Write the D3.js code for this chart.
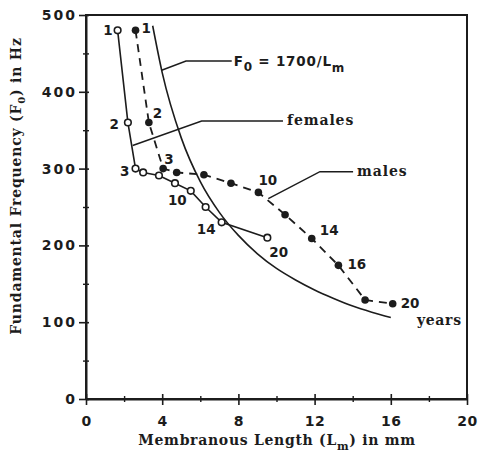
<!DOCTYPE html>
<html><head><meta charset="utf-8">
<script src="https://cdn.jsdelivr.net/npm/d3@7"></script>
<style>body{margin:0;background:#fff}</style>
</head><body>
<svg id="c" width="478" height="457"></svg>
<script>
// ---- data ----
const xTicks = [0, 4, 8, 12, 16, 20];
const xMinor = [2, 6, 10, 14, 18];
const yTicks = [0, 100, 200, 300, 400, 500];
const yMinor = [50, 150, 250, 350, 450];

const femaleAge = [1, 2, 3, 4, 6, 8, 10, 12, 14, 20];
const femaleL   = [1.66, 2.2, 2.6, 3.0, 3.83, 4.67, 5.5, 6.28, 7.12, 9.52];
const femaleF   = [480, 360, 300, 295, 291, 281, 271, 250, 230, 210];

const maleAge = [1, 2, 3, 4, 6, 8, 10, 12, 14, 16, 18, 20];
const maleL   = [2.6, 3.3, 4.05, 4.76, 6.19, 7.61, 9.05, 10.45, 11.85, 13.25, 14.65, 16.1];
const maleF   = [480, 360, 300, 295, 292, 281, 269, 240, 209, 174, 129, 124];

const femaleLabeled = [1, 2, 3, 10, 14, 20];
const maleLabeled   = [1, 2, 3, 10, 14, 16, 20];

// reference curve F0 = 1700/Lm
const curveL = [3.5, 4, 5, 6, 7, 8, 9, 10, 11, 12, 13, 14, 15, 16];
const curveF = [486, 425, 340, 283, 243, 213, 189, 170, 155, 142, 131, 121, 113, 106];

// ---- layout ----
const svg = d3.select("#c");
const W = 478, H = 457;
const m = {l: 86, r: 11, t: 15, b: 58};
const x = d3.scaleLinear().domain([0, 20]).range([m.l, W - m.r]);
const y = d3.scaleLinear().domain([0, 500]).range([H - m.b, m.t]);
const ink = "#1c1c1c";
const numFont = "'DejaVu Sans', sans-serif";
const serif = "'DejaVu Serif', serif";

svg.append("rect").attr("width", W).attr("height", H).attr("fill", "#fff");

// frame
svg.append("rect")
  .attr("x", x(0)).attr("y", y(500))
  .attr("width", x(20) - x(0)).attr("height", y(0) - y(500))
  .attr("fill", "none").attr("stroke", ink).attr("stroke-width", 2);

// axes
const gx = svg.append("g").attr("transform", `translate(0,${y(0)})`)
  .call(d3.axisBottom(x).tickValues(xTicks).tickSize(6).tickSizeOuter(0));
gx.select(".domain").attr("stroke", ink).attr("stroke-width", 2);
gx.selectAll(".tick line").attr("y1", -5).attr("stroke", ink).attr("stroke-width", 1.6);
gx.selectAll(".tick text").attr("y", 27).attr("dy", 0)
  .attr("font-family", numFont).attr("font-weight", "bold").attr("font-size", 14)
  .attr("letter-spacing", 0.5).attr("fill", ink);

const gxm = svg.append("g").attr("transform", `translate(0,${y(0)})`)
  .call(d3.axisBottom(x).tickValues(xMinor).tickSize(3).tickSizeOuter(0).tickFormat(""));
gxm.select(".domain").remove();
gxm.selectAll(".tick line").attr("y1", -3).attr("stroke", ink).attr("stroke-width", 1.4);

const gy = svg.append("g").attr("transform", `translate(${x(0)},0)`)
  .call(d3.axisLeft(y).tickValues(yTicks).tickSize(7).tickSizeOuter(0));
gy.select(".domain").attr("stroke", ink).attr("stroke-width", 2);
gy.selectAll(".tick line").attr("x1", 3).attr("stroke", ink).attr("stroke-width", 1.6);
gy.selectAll(".tick text").attr("x", -9)
  .attr("font-family", numFont).attr("font-weight", "bold").attr("font-size", 14)
  .attr("letter-spacing", 2).attr("fill", ink);

const gym = svg.append("g").attr("transform", `translate(${x(0)},0)`)
  .call(d3.axisLeft(y).tickValues(yMinor).tickSize(3).tickSizeOuter(0).tickFormat(""));
gym.select(".domain").remove();
gym.selectAll(".tick line").attr("x1", 3).attr("stroke", ink).attr("stroke-width", 1.4);

// axis titles
const xt = svg.append("text").attr("x", 277).attr("y", 445)
  .attr("text-anchor", "middle").attr("font-family", serif).attr("font-weight", "bold")
  .attr("font-size", 14).attr("letter-spacing", 0.7).attr("fill", ink);
xt.append("tspan").text("Membranous Length (L");
xt.append("tspan").attr("dy", 5).attr("font-size", 11).text("m");
xt.append("tspan").attr("dy", -5).text(") in mm");

const yt = svg.append("text").attr("transform", "translate(21,186) rotate(-90)")
  .attr("text-anchor", "middle").attr("font-family", serif).attr("font-weight", "bold")
  .attr("font-size", 14).attr("letter-spacing", 0.8).attr("fill", ink);
yt.append("tspan").text("Fundamental Frequency (F");
yt.append("tspan").attr("dy", 4).attr("font-size", 10).text("0");
yt.append("tspan").attr("dy", -4).text(") in Hz");

// reference curve
const curvePts = curveL.map((d, i) => [d, curveF[i]]);
svg.append("path").datum(curvePts)
  .attr("d", d3.line().x(d => x(d[0])).y(d => y(d[1])).curve(d3.curveMonotoneX))
  .attr("fill", "none").attr("stroke", ink).attr("stroke-width", 1.6);

// series
const females = femaleAge.map((a, i) => ({age: a, L: femaleL[i], F: femaleF[i]}));
const males = maleAge.map((a, i) => ({age: a, L: maleL[i], F: maleF[i]}));
const line = d3.line().x(d => x(d.L)).y(d => y(d.F));

svg.append("path").datum(males).attr("d", line)
  .attr("fill", "none").attr("stroke", ink).attr("stroke-width", 1.8)
  .attr("stroke-dasharray", "8,6");
svg.append("path").datum(females).attr("d", line)
  .attr("fill", "none").attr("stroke", ink).attr("stroke-width", 1.6);

svg.selectAll(".mpt").data(males).enter().append("circle")
  .attr("cx", d => x(d.L)).attr("cy", d => y(d.F)).attr("r", 3.8).attr("fill", ink);
svg.selectAll(".fpt").data(females).enter().append("circle")
  .attr("cx", d => x(d.L)).attr("cy", d => y(d.F)).attr("r", 3.3)
  .attr("fill", "#fff").attr("stroke", ink).attr("stroke-width", 1.6);

// age labels (pixel offsets from each point; negative x = right-aligned on the left)
const fOff = {1: [-5, 5], 2: [-9, 6], 3: [-6, 7], 10: [-4, 14], 14: [-6, 12], 20: [2, 19]};
const mOff = {1: [6, 3], 2: [4, -5], 3: [1, -5], 10: [0, -7], 14: [8, -3], 16: [9, 4], 20: [8, 4]};
function ageLabels(data, labeled, off) {
  svg.selectAll(null).data(data.filter(d => labeled.includes(d.age))).enter().append("text")
    .attr("x", d => x(d.L) + off[d.age][0]).attr("y", d => y(d.F) + off[d.age][1])
    .attr("text-anchor", d => off[d.age][0] < 0 ? "end" : "start")
    .attr("font-family", numFont).attr("font-weight", "bold").attr("font-size", 13.5)
    .attr("fill", ink).text(d => d.age);
}
ageLabels(females, femaleLabeled, fOff);
ageLabels(males, maleLabeled, mOff);

// annotation leaders (data coordinates)
const leaders = [
  [[3.97, 428], [5.25, 440], [7.65, 440]],
  [[2.45, 330], [6.07, 362], [10.34, 362]],
  [[9.57, 261], [12.28, 296], [14.02, 296]]
];
leaders.forEach(pts => {
  svg.append("path").attr("d", d3.line().x(d => x(d[0])).y(d => y(d[1]))(pts))
    .attr("fill", "none").attr("stroke", ink).attr("stroke-width", 1.5);
});

const f0 = svg.append("text").attr("x", x(7.75)).attr("y", y(440) + 5)
  .attr("font-family", numFont).attr("font-weight", "bold").attr("font-size", 13.5)
  .attr("letter-spacing", 0.8).attr("fill", ink);
f0.append("tspan").text("F");
f0.append("tspan").attr("dy", 5).attr("font-size", 12).text("0");
f0.append("tspan").attr("dy", -5).text(" = 1700/L");
f0.append("tspan").attr("dy", 6).attr("font-size", 12).text("m");

svg.append("text").attr("x", x(10.55)).attr("y", y(362) + 4)
  .attr("font-family", serif).attr("font-weight", "bold").attr("font-size", 14)
  .attr("letter-spacing", 0.9).attr("fill", ink).text("females");
svg.append("text").attr("x", x(14.23)).attr("y", y(296) + 4)
  .attr("font-family", serif).attr("font-weight", "bold").attr("font-size", 14)
  .attr("letter-spacing", 0.9).attr("fill", ink).text("males");
svg.append("text").attr("x", x(17.37)).attr("y", y(103) + 5)
  .attr("font-family", serif).attr("font-weight", "bold").attr("font-size", 14)
  .attr("letter-spacing", 0.7).attr("fill", ink).text("years");
</script>
</body></html>
